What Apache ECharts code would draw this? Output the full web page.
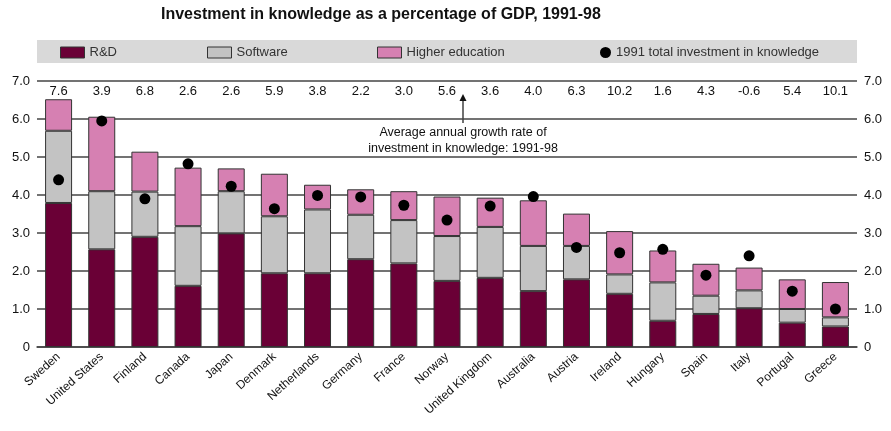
<!DOCTYPE html>
<html>
<head>
<meta charset="utf-8">
<script src="https://cdn.jsdelivr.net/npm/echarts@6/dist/echarts.min.js"></script>
<style>
  html, body { margin: 0; padding: 0; background: #fff; }
  #chart { width: 891px; height: 431px; }
</style>
</head>
<body>
<div id="chart"></div>
<script>
// countries, sorted by total investment in knowledge
const countries = ['Sweden', 'United States', 'Finland', 'Canada', 'Japan', 'Denmark', 'Netherlands',
  'Germany', 'France', 'Norway', 'United Kingdom', 'Australia', 'Austria', 'Ireland', 'Hungary',
  'Spain', 'Italy', 'Portugal', 'Greece'];
// average annual growth rate 1991-98 (shown above the bars)
const growthRate = ['7.6', '3.9', '6.8', '2.6', '2.6', '5.9', '3.8', '2.2', '3.0', '5.6', '3.6',
  '4.0', '6.3', '10.2', '1.6', '4.3', '-0.6', '5.4', '10.1'];
// % of GDP
const rnd = [3.79, 2.57, 2.90, 1.61, 2.99, 1.94, 1.94, 2.31, 2.20, 1.74, 1.82, 1.47, 1.78, 1.40, 0.69,
  0.87, 1.02, 0.64, 0.54];
const software = [1.90, 1.53, 1.19, 1.57, 1.11, 1.50, 1.68, 1.17, 1.14, 1.18, 1.34, 1.19, 0.88, 0.51,
  1.01, 0.48, 0.47, 0.36, 0.24];
const higherEdu = [0.83, 1.96, 1.05, 1.54, 0.60, 1.12, 0.65, 0.67, 0.76, 1.04, 0.77, 1.20, 0.85, 1.14,
  0.84, 0.84, 0.60, 0.78, 0.93];
const total1991 = [4.40, 5.95, 3.90, 4.82, 4.23, 3.64, 3.99, 3.95, 3.73, 3.34, 3.71, 3.96, 2.62, 2.48,
  2.57, 1.89, 2.40, 1.47, 1.00];

const FONT = 'Liberation Sans';
const textColor = '#111';
const barBorder = { borderColor: '#333', borderWidth: 1 };

const chart = echarts.init(document.getElementById('chart'));

const yLabel = {
  color: textColor,
  fontFamily: FONT,
  fontSize: 13,
  margin: 7,
  formatter: (v) => (v === 0 ? '0' : v.toFixed(1)),
};

// one legend per item so each sits where it does in the original
function legendAt(left, name, extra) {
  return Object.assign({
    data: [{ name: name, icon: 'rect', itemStyle: { borderColor: '#333', borderWidth: 1 } }],
    left: left,
    top: 46,
    padding: 0,
    itemWidth: 24,
    itemHeight: 11,
    itemGap: 5,
    textStyle: { color: '#333', fontFamily: FONT, fontSize: 13 },
    selectedMode: false,
  }, extra || {});
}

chart.setOption({
  animation: false,
  title: {
    text: 'Investment in knowledge as a percentage of GDP, 1991-98',
    left: 161,
    top: 7,
    padding: 0,
    textStyle: { fontFamily: FONT, fontSize: 16, fontWeight: 'bold', color: '#111' },
  },
  legend: [
    legendAt(60, 'R&D'),
    legendAt(207, 'Software'),
    legendAt(377, 'Higher education'),
    legendAt(600, '1991 total investment in knowledge', {
      data: [{ name: '1991 total investment in knowledge', icon: 'circle' }],
      itemWidth: 11,
      itemHeight: 11,
      itemGap: 7,
    }),
  ],
  graphic: [
    {
      type: 'rect',
      z: -1,
      shape: { x: 37, y: 40, width: 820, height: 23 },
      style: { fill: '#d9d9d9' },
    },
    {
      type: 'line',
      shape: { x1: 463, y1: 123, x2: 463, y2: 100 },
      style: { stroke: '#111', lineWidth: 1.2 },
    },
    {
      type: 'polygon',
      shape: { points: [[459.5, 101], [466.5, 101], [463, 94]] },
      style: { fill: '#111' },
    },
    {
      type: 'text',
      x: 463,
      y: 125,
      style: {
        text: 'Average annual growth rate of\ninvestment in knowledge: 1991-98',
        align: 'center',
        fill: '#111',
        font: '12.5px "Liberation Sans"',
        lineHeight: 16,
      },
    },
  ],
  grid: { left: 37, right: 34, top: 81, bottom: 84 },
  xAxis: [
    {
      type: 'category',
      data: countries,
      axisLine: { lineStyle: { color: '#444', width: 1.5 } },
      axisTick: { show: false },
      axisLabel: {
        interval: 0,
        rotate: 42,
        margin: 8,
        color: textColor,
        fontFamily: FONT,
        fontSize: 12,
      },
    },
    {
      type: 'category',
      data: growthRate,
      position: 'top',
      axisLine: { show: false },
      axisTick: { show: false },
      axisLabel: {
        inside: true,
        interval: 0,
        margin: 4,
        color: textColor,
        fontFamily: FONT,
        fontSize: 13,
      },
    },
  ],
  yAxis: [
    {
      type: 'value',
      min: 0,
      max: 7,
      interval: 1,
      axisLine: { show: false },
      axisTick: { show: false },
      axisLabel: yLabel,
      splitLine: { lineStyle: { color: '#444', width: 1.5 } },
    },
    {
      type: 'value',
      min: 0,
      max: 7,
      interval: 1,
      position: 'right',
      axisLine: { show: false },
      axisTick: { show: false },
      axisLabel: yLabel,
      splitLine: { show: false },
    },
  ],
  series: [
    {
      name: 'R&D',
      type: 'bar',
      stack: 'total',
      barWidth: 27,
      data: rnd,
      itemStyle: Object.assign({ color: '#6a0036' }, barBorder),
    },
    {
      name: 'Software',
      type: 'bar',
      stack: 'total',
      data: software,
      itemStyle: Object.assign({ color: '#c3c3c3' }, barBorder),
    },
    {
      name: 'Higher education',
      type: 'bar',
      stack: 'total',
      data: higherEdu,
      itemStyle: Object.assign({ color: '#d680b2' }, barBorder),
    },
    {
      name: '1991 total investment in knowledge',
      type: 'scatter',
      symbol: 'circle',
      symbolSize: 11,
      data: total1991,
      itemStyle: { color: '#000', opacity: 1 },
      z: 5,
    },
  ],
});
</script>
</body>
</html>
